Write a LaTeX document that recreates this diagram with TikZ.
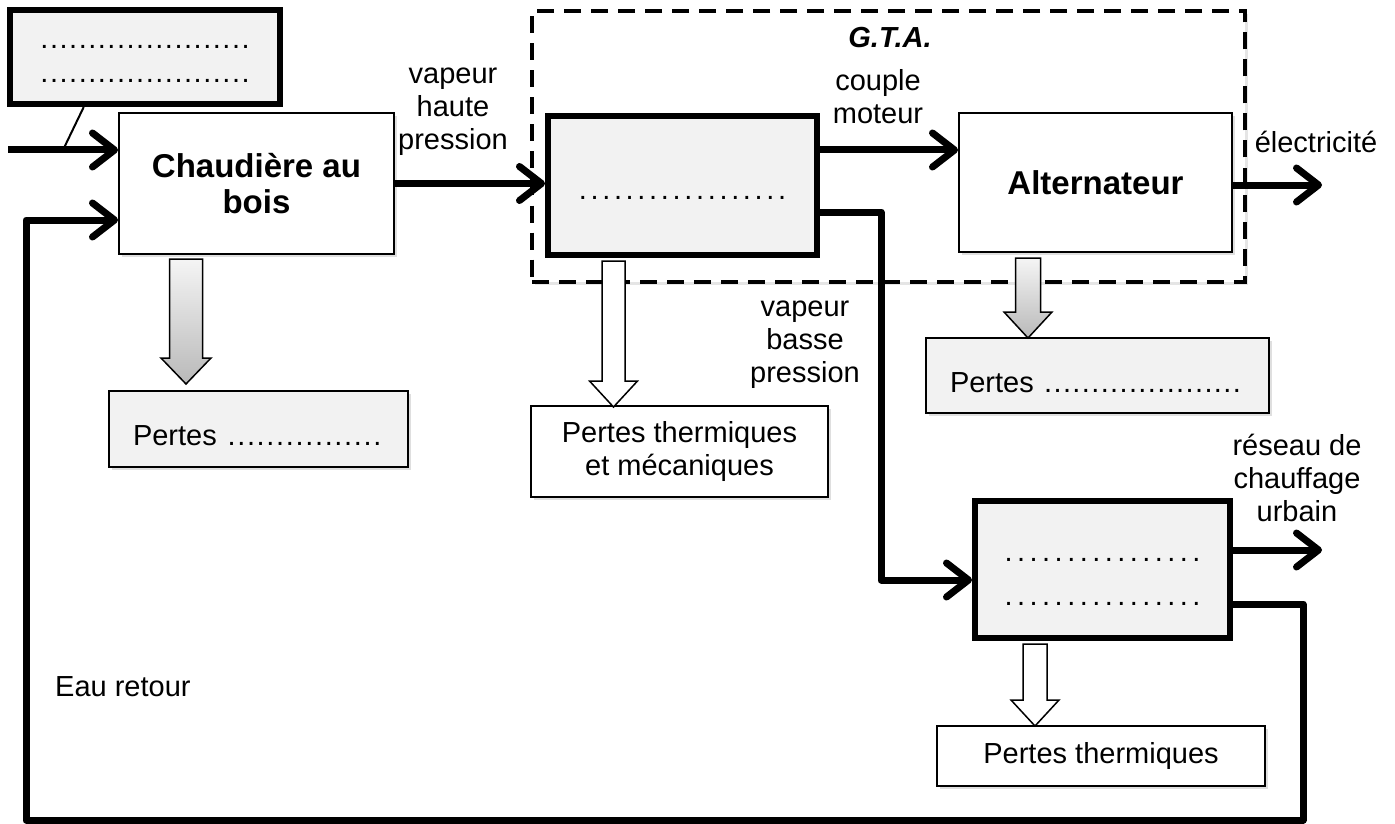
\documentclass[tikz,border=0pt]{standalone}
\usepackage{fontspec}
\setmainfont{Liberation Sans}
\usepackage{xcolor}
\usepackage{tikz}
\usetikzlibrary{arrows.meta, calc, shadows}
\definecolor{fondgris}{RGB}{242,242,242}
\newcommand{\pointilles}[2]{\hbox to #1{\xleaders\hbox to #2{\hss.\hss}\hfill}}
\newcommand{\fleche}[5]{%
    \draw[#1] (#2) ++(-#4/2,0) -- ++(0,#3-26) -- ++(#4/2-#5/2,0) -- ++(#5/2,26)
        -- ++(#5/2,-26) -- ++(#4/2-#5/2,0) -- ++(0,26-#3) -- cycle;}
\tikzset{
    bloc/.style={
        rectangle,
        draw=black,
        line width=2pt,
        fill=white,
        align=center,
        drop shadow={shadow xshift=3pt, shadow yshift=-3pt, opacity=0.25}
    },
    blocgris/.style={
        bloc,
        line width=6pt,
        fill=fondgris
    },
    pertes/.style={
        bloc,
        fill=fondgris,
        align=left
    },
    cadre/.style={
        rectangle,
        draw=black,
        line width=4pt,
        dash pattern=on 17pt off 10pt,
        fill=white,
        drop shadow={shadow xshift=3pt, shadow yshift=-3pt, opacity=0.2}
    },
    flux/.style={
        draw=black,
        line width=7pt,
        line join=round,
        -{Straight Barb[length=22pt, width=34pt, round]}
    },
    etiquette/.style={
        align=center,
        inner sep=0pt
    },
    pertegrise/.style={
        draw=black,
        line width=1.5pt,
        top color=gray!8,
        bottom color=gray!55
    },
    pertevide/.style={
        draw=black,
        line width=1.5pt,
        fill=white
    }
}

\begin{document}
\begin{tikzpicture}[x=1pt, y=-1pt, font=\fontsize{29}{33}\selectfont]

\fill[white] (0,0) rectangle (1395,824);
\useasboundingbox (0,0) rectangle (1395,824);

% G.T.A.
\node[cadre, minimum width=713pt, minimum height=270pt] (gta) at (888.5,146.5) {};
\node[etiquette, font=\fontsize{29}{33}\selectfont\bfseries\itshape] (gtanom) at (890,38) {G.T.A.};

% blocs
\node[blocgris, minimum width=270pt, minimum height=94pt] (bois) at (145,57)
    {\pointilles{211pt}{9.2pt}\rule{0pt}{18pt}\\[1pt]\pointilles{211pt}{9.2pt}};
\node[bloc, minimum width=275pt, minimum height=141pt, font=\fontsize{33}{36}\selectfont\bfseries] (chaud) at (256.5,183.5) {Chaudière au\\bois};
\node[blocgris, minimum width=269pt, minimum height=139pt] (turb) at (682.5,185.5)
    {\pointilles{211pt}{11.7pt}\rule{0pt}{27pt}};
\node[bloc, minimum width=273pt, minimum height=139pt, font=\fontsize{33}{36}\selectfont\bfseries] (alt) at (1095.5,182.5) {Alternateur};
\node[blocgris, minimum width=255pt, minimum height=137pt] (ech) at (1102.5,569.5)
    {\pointilles{200pt}{12.5pt}\rule{0pt}{27pt}\\[11pt]\pointilles{200pt}{12.5pt}};

% pertes
\node[pertes, minimum width=299pt, minimum height=76pt, text width=251pt, inner xsep=24pt, text height=33pt, text depth=0pt] (pchaud) at (258.5,429) {Pertes~\pointilles{156pt}{9.2pt}};
\node[bloc, minimum width=297pt, minimum height=91pt] (pturb) at (679.5,451.5) {Pertes thermiques\\et mécaniques};
\node[pertes, minimum width=343pt, minimum height=75pt, text width=295pt, inner xsep=24pt, text height=34pt, text depth=0pt] (palt) at (1097.5,375.5) {Pertes~\pointilles{198pt}{9.4pt}};
\node[bloc, minimum width=328pt, minimum height=60pt] (pech) at (1101,756) {Pertes thermiques};

% textes
\node[etiquette] (hp) at (453,112) {vapeur\\haute\\pression};
\node[etiquette] (couple) at (878,97) {couple\\moteur};
\node[etiquette] (elecnom) at (1316,142) {électricité};
\node[etiquette] (bp) at (805,345) {vapeur\\basse\\pression};
\node[etiquette] (reseaunom) at (1297,478) {réseau de\\chauffage\\urbain};
\node[etiquette, anchor=west] (eau) at (55,687) {Eau retour};

% flux
\coordinate (entree) at (8,150);
\coordinate (fourche) at (63,150);
\coordinate (elec) at (1322,185);
\coordinate (reseau) at (1322,550);
\coordinate (retourdroit) at (1303,820);
\coordinate (retourgauche) at (26,820);

\draw[line width=2pt] ($(bois.south west)!0.278!(bois.south east)$) -- (fourche);
\draw[flux] (entree) -- (entree -| chaud.west);
\draw[flux] (chaud.east) -- (chaud.east -| turb.west);
\draw[flux] ([yshift=35.5pt]turb.east) -- ([yshift=35.5pt]turb.east -| alt.west);
\draw[flux] (elec -| alt.east) -- (elec);
\draw[flux] ([yshift=-26.5pt]turb.east) -- ++(61,0) |- ([yshift=-10.5pt]ech.west);
\draw[flux] (reseau -| ech.east) -- (reseau);
\draw[flux] ([yshift=-34.5pt]ech.east) -| (retourdroit) -- (retourgauche) |- ([yshift=-36.5pt]chaud.west);

% pertes (fleches creuses)
\fleche{pertegrise}{$(chaud.south)+(-70.5,4)$}{125}{33}{50}
\fleche{pertevide}{$(turb.south)+(-69,3)$}{146}{23}{48}
\fleche{pertegrise}{$(alt.south)+(-67.5,5)$}{80}{25}{48}
\fleche{pertevide}{$(ech.south)+(-67.5,3)$}{82}{24}{48}

\end{tikzpicture}
\end{document}
